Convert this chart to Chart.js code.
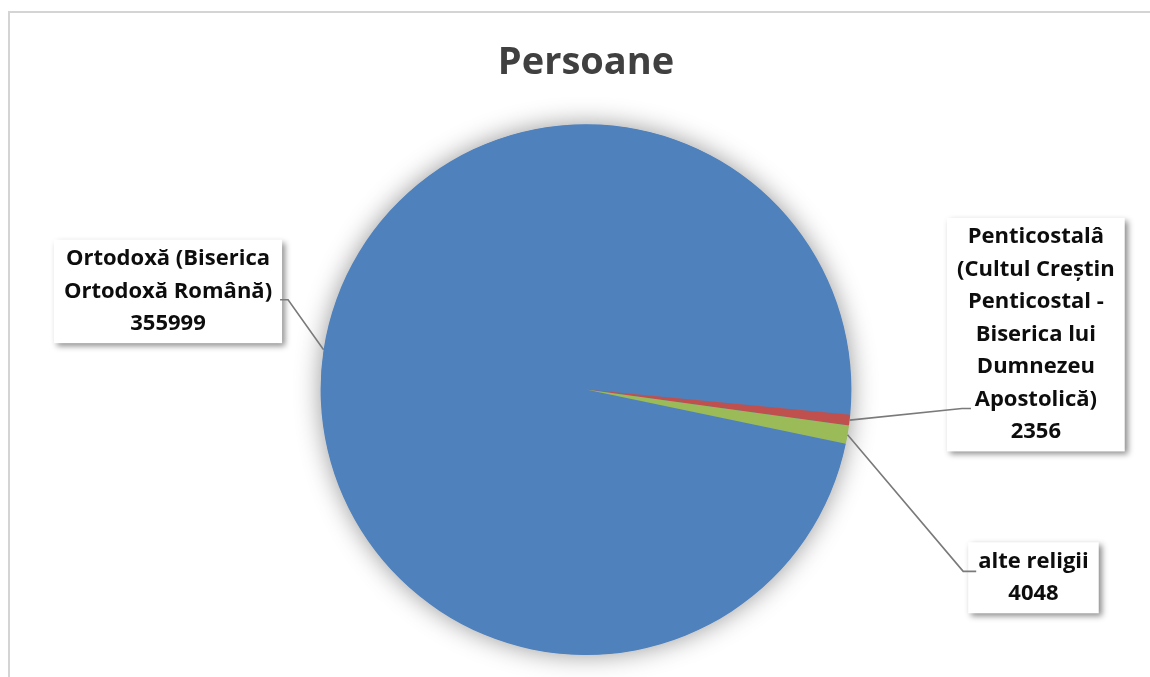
<!DOCTYPE html>
<html><head><meta charset="utf-8">
<script src="https://cdn.jsdelivr.net/npm/chart.js@4.4.0/dist/chart.umd.min.js"></script>
<style>
html,body{margin:0;padding:0;background:#fff;overflow:hidden}
#wrap{position:relative;width:1150px;height:677px;overflow:hidden}
#frame{position:absolute;left:8px;top:11px;width:1200px;height:700px;border-left:2px solid #d4d4d4;border-top:2px solid #d4d4d4;box-sizing:border-box}
canvas{position:absolute;left:0;top:0}
</style></head><body>
<div id="wrap"><div id="frame"></div><canvas id="c" width="1150" height="677"></canvas></div>
<script>
// ---- data ----
const chartTitle = 'Persoane';
const categories = [
  ['Ortodoxă (Biserica', 'Ortodoxă Română)'],
  ['Penticostalâ', '(Cultul Creștin', 'Penticostal -', 'Biserica lui', 'Dumnezeu', 'Apostolică)'],
  ['alte religii']
];
const values = [355999, 2356, 4048];
const sliceColors = ['#4F81BD', '#C0504D', '#9BBB59'];

// ---- label placement (relative to pie centre, in radius units) ----
const labelLayout = [
  {cx: -1.575, cy: -0.370, side: 'right', yFrac: 0.58, inset: 2, elbow: 8},
  {cx: 1.695, cy: -0.207, side: 'left', yFrac: 0.816, inset: 24, elbow: -9},
  {cx: 1.686, cy: 0.709, side: 'left', yFrac: 0.41, inset: 8, elbow: -13}
];
const LABEL_FONT = 'bold 22px "Open Sans"';
const LINE_H = 32.5;
const PAD_X = 10, PAD_Y = 3;

const pieShadow = {
  id: 'pieShadow',
  beforeDatasetsDraw(chart) {
    const arc = chart.getDatasetMeta(0).data[0];
    if (!arc) return;
    const ctx = chart.ctx;
    ctx.save();
    ctx.shadowColor = 'rgba(0,0,0,0.42)';
    ctx.shadowBlur = 26;
    ctx.fillStyle = sliceColors[0];
    ctx.beginPath();
    ctx.arc(arc.x, arc.y, arc.outerRadius - 0.5, 0, Math.PI * 2);
    ctx.fill();
    ctx.restore();
  }
};

const boxLabels = {
  id: 'boxLabels',
  afterDatasetsDraw(chart) {
    const ctx = chart.ctx;
    const meta = chart.getDatasetMeta(0);
    meta.data.forEach((arc, i) => {
      const lay = labelLayout[i];
      const r = arc.outerRadius;
      const mid = (arc.startAngle + arc.endAngle) / 2;
      const ex = arc.x + Math.cos(mid) * r;
      const ey = arc.y + Math.sin(mid) * r;
      const lines = categories[i].concat([String(values[i])]);
      ctx.save();
      ctx.font = LABEL_FONT;
      let maxW = 0;
      lines.forEach(l => { maxW = Math.max(maxW, ctx.measureText(l).width); });
      const bw = maxW + PAD_X * 2;
      const bh = lines.length * LINE_H + PAD_Y * 2;
      const bcx = arc.x + lay.cx * r;
      const bcy = arc.y + lay.cy * r;
      const bx = bcx - bw / 2, by = bcy - bh / 2;
      ctx.save();
      ctx.shadowColor = 'rgba(0,0,0,0.45)';
      ctx.shadowBlur = 6;
      ctx.shadowOffsetX = 3;
      ctx.shadowOffsetY = 3;
      ctx.fillStyle = '#ffffff';
      ctx.fillRect(bx, by, bw, bh);
      ctx.restore();
      const sideX = lay.side === 'right' ? bx + bw : bx;
      const ay = by + bh * lay.yFrac;
      const endX = lay.side === 'right' ? sideX - lay.inset : sideX + lay.inset;
      const elbowX = endX + lay.elbow;
      ctx.strokeStyle = '#7a7a7a';
      ctx.lineWidth = 1.6;
      ctx.beginPath();
      ctx.moveTo(ex, ey);
      ctx.lineTo(elbowX, ay);
      ctx.lineTo(endX, ay);
      ctx.stroke();
      ctx.fillStyle = '#0d0d0d';
      ctx.textAlign = 'center';
      ctx.textBaseline = 'middle';
      lines.forEach((l, k) => {
        ctx.fillText(l, bcx, by + PAD_Y + LINE_H * (k + 0.5));
      });
      ctx.restore();
    });
  }
};

new Chart(document.getElementById('c'), {
  type: 'pie',
  data: {
    labels: categories,
    datasets: [{
      data: values,
      backgroundColor: sliceColors,
      borderWidth: 0,
      hoverOffset: 0,
      offset: 0
    }]
  },
  options: {
    responsive: false,
    animation: false,
    rotation: 101.8,
    layout: {padding: {left: 22, right: 0, top: 0, bottom: 22}},
    plugins: {
      legend: {display: false},
      tooltip: {enabled: false},
      title: {
        display: true,
        text: chartTitle,
        color: '#404040',
        font: {family: '"Open Sans"', size: 38, weight: 'bold', lineHeight: 1.2},
        padding: {top: 40, bottom: 38.6}
      }
    }
  },
  plugins: [pieShadow, boxLabels]
});
</script>
</body></html>
